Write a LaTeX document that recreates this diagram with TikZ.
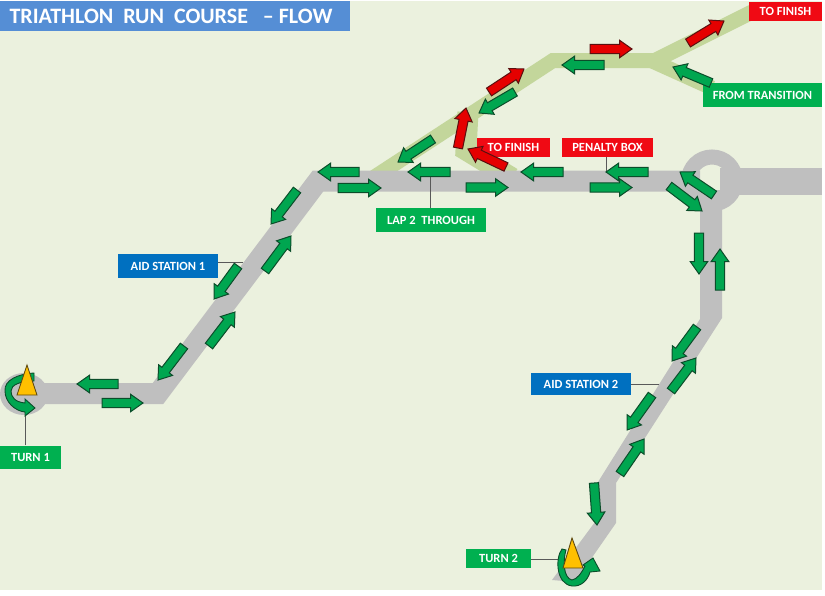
\documentclass[tikz,border=0pt]{standalone}
\usepackage{fontspec}
\setmainfont{Carlito}
\usetikzlibrary{calc}

\definecolor{groundgreen}{HTML}{EBF1DE}
\definecolor{roadgray}{HTML}{BFBFBF}
\definecolor{finishroad}{HTML}{C3D69B}
\definecolor{runnergreen}{HTML}{00A650}
\definecolor{runneredge}{HTML}{0B4D2A}
\definecolor{labelgreen}{HTML}{00B050}
\definecolor{labelblue}{HTML}{0070C0}
\definecolor{titleblue}{HTML}{558ED5}
\definecolor{labelred}{HTML}{F00A14}
\definecolor{redflowedge}{HTML}{5A1010}
\definecolor{conefill}{HTML}{FFC000}
\definecolor{coneedge}{HTML}{5F4A10}

\tikzset{
    flowshape/.style={line width=1pt, line join=miter,
        to path={($(\tikztotarget)!12.5pt!(\tikztostart)$) coordinate (headbase)
            ($(\tikztostart)!4.6pt!90:(\tikztotarget)$)
            -- ($(headbase)!4.6pt!90:(\tikztotarget)$)
            -- ($(headbase)!8.8pt!90:(\tikztotarget)$)
            -- (\tikztotarget)
            -- ($(headbase)!8.8pt!-90:(\tikztotarget)$)
            -- ($(headbase)!4.6pt!-90:(\tikztotarget)$)
            -- ($(\tikztostart)!4.6pt!-90:(\tikztotarget)$)
            -- cycle}},
    greenflow/.style={flowshape, fill=runnergreen, draw=runneredge},
    redflow/.style={flowshape, fill=red!90!black, draw=redflowedge},
    tag/.style={text=white, font=\bfseries\fontsize{12.5}{12.5}\selectfont, inner sep=0pt, anchor=center},
    greentag/.style={tag, fill=labelgreen},
    bluetag/.style={tag, fill=labelblue},
    redtag/.style={tag, fill=labelred},
    leader/.style={draw=black!65, line width=1pt},
    road/.style={draw=roadgray, line width=21pt, line join=miter},
    finishpath/.style={draw=finishroad, line width=15pt, line join=miter},
    cone/.style={fill=conefill, draw=coneedge, line width=0.9pt, line join=miter},
    turnflow/.style={fill=runnergreen, draw=runneredge, line width=0.9pt}
}

\begin{document}
\begin{tikzpicture}[x=1pt,y=-1pt]

    \useasboundingbox (0,0) rectangle (825,595);
    \fill[white] (0,0) rectangle (825,595);
    \fill[groundgreen] (0,1) rectangle (822,590);

    %===========================
    % Finish roads
    %===========================
    \draw[finishpath] (373,178) -- (553,60.5) -- (655,60.5) -- (752,12);
    \draw[finishpath] (650,60) -- (712,88);
    \draw[finishpath, line width=21pt] (468,112) -- (466,150) -- (512,178);

    %===========================
    % Run course
    %===========================
    \draw[road] (24,393.5) -- (158,393.5) -- (318,181) -- (700,181);
    \draw[road, line width=27pt] (720,181) -- (822,181);
    \fill[roadgray] (700,190) -- (722,190) -- (722,318) -- (616,483) -- (616,523) -- (575,582)
        -- (552,580) -- (595,522) -- (598,482) -- (700,319) -- cycle;

    % Turn loop and roundabout
    \fill[roadgray] (24,394) ellipse [x radius=24, y radius=21];
    \draw[draw=roadgray, line width=15pt] (712,180.5) circle [radius=23.5];

    %===========================
    % Labels
    %===========================
    \node (title) at (175,16) [tag, fill=titleblue, minimum width=350, minimum height=30, font=\bfseries\fontsize{22}{22}\selectfont]
        {TRIATHLON\ \ RUN\ \ COURSE\ \ \ -- FLOW\hspace*{8pt}\mbox{}};
    \node (turnA) at (30.5,457) [greentag, minimum width=61, minimum height=23] {TURN 1};
    \node (aidA) at (168,266) [bluetag, minimum width=100, minimum height=24] {AID STATION 1};
    \node (through) at (431,220) [greentag, minimum width=110, minimum height=24] {LAP 2\ \ THROUGH};
    \node (finishA) at (513.5,147.5) [redtag, minimum width=73, minimum height=19] {TO FINISH};
    \node (penalty) at (607.5,147.5) [redtag, minimum width=91, minimum height=19] {PENALTY BOX};
    \node (finishB) at (785.5,11.5) [redtag, minimum width=73, minimum height=19] {TO FINISH};
    \node (transition) at (762.5,95) [greentag, minimum width=119, minimum height=24] {FROM TRANSITION};
    \node (aidB) at (581,384) [bluetag, minimum width=100, minimum height=22] {AID STATION 2};
    \node (turnB) at (498.5,558.5) [greentag, minimum width=65, minimum height=19] {TURN 2};

    % Leader ends
    \coordinate (turnAend) at (25,410);
    \coordinate (aidAend) at (243,262);
    \coordinate (throughend) at (430.5,177);
    \coordinate (penaltyend) at (606,172);
    \coordinate (aidBend) at (659,384);
    \coordinate (turnBend) at (560,559);

    \draw[leader] (turnA.north -| turnAend) -- (turnAend);
    \draw[leader] (aidA.east |- aidAend) -- (aidAend);
    \draw[leader] (through.north -| throughend) -- (throughend);
    \draw[leader] (penalty.south -| penaltyend) -- (penaltyend);
    \draw[leader] (aidB.east |- aidBend) -- (aidBend);
    \draw[leader] (turnB.east |- turnBend) -- (turnBend);

    %===========================
    % Green flow arrows
    %===========================
    % Left Side
    \draw[greenflow] (118,384) to (77,384);
    \draw[greenflow] (102,403) to (143,403);
    \draw[greenflow] (184,346) to (158,380);
    \draw[greenflow] (209,346) to (235,312);
    \draw[greenflow] (238,266) to (214,299);
    \draw[greenflow] (265,271) to (291,236);
    \draw[greenflow] (297,190) to (271,224);

    % Middle
    \draw[greenflow] (359,172) to (318,172);
    \draw[greenflow] (338,188) to (381,188);
    \draw[greenflow] (450,172) to (408,172);
    \draw[greenflow] (466,187.5) to (508,187.5);
    \draw[greenflow] (563,172) to (521,172);
    \draw[greenflow] (590,187.5) to (632,187.5);
    \draw[greenflow] (648,172) to (606,172);

    % Right Side
    \draw[greenflow] (714,195) to (680,172);
    \draw[greenflow] (669,186) to (702,211);
    \draw[greenflow] (699,233) to (699,274);
    \draw[greenflow] (720,290) to (720,249);
    \draw[greenflow] (697,327) to (672,361);
    \draw[greenflow] (671,391) to (696,358);
    \draw[greenflow] (652,395) to (627,430);
    \draw[greenflow] (620,474) to (644,439);
    \draw[greenflow] (594,483) to (597,525);

    % Finish roads
    \draw[greenflow] (604,65) to (562,65);
    \draw[greenflow] (515,92) to (479,113);
    \draw[greenflow] (433,139) to (398,162);
    \draw[greenflow] (711,83) to (673,67);

    %===========================
    % Red flow arrows
    %===========================
    \draw[redflow] (590,49) to (632,49);
    \draw[redflow] (489,92) to (524,69);
    \draw[redflow] (458,148) to (466,108);
    \draw[redflow] (506,167) to (468,149);
    \draw[redflow] (688,43) to (724,21);

    %===========================
    % Turn points
    %===========================
    \draw[turnflow] (34,373) .. controls (18,374) and (4,380) .. (5,391)
        .. controls (5,402) and (15,411) .. (25,412) -- (25,416) -- (35,408) -- (25,399) -- (25,403)
        .. controls (15,402) and (11,397) .. (11,391)
        .. controls (11,385) and (20,381) .. (34,381) -- cycle;
    \draw[cone] (27,365) -- (37,395) -- (17,395) -- cycle;

    \draw[turnflow] (562,549) .. controls (555,558) and (556,584) .. (572,586)
        .. controls (581,587) and (588,580) .. (590,572) -- (600,571) -- (593,558) -- (583,565) -- (585,566)
        .. controls (581,574) and (577,579) .. (572,580)
        .. controls (563,578) and (563,560) .. (566,550) -- cycle;
    \draw[cone] (572,538) -- (583,568) -- (563,568) -- cycle;

\end{tikzpicture}
\end{document}
